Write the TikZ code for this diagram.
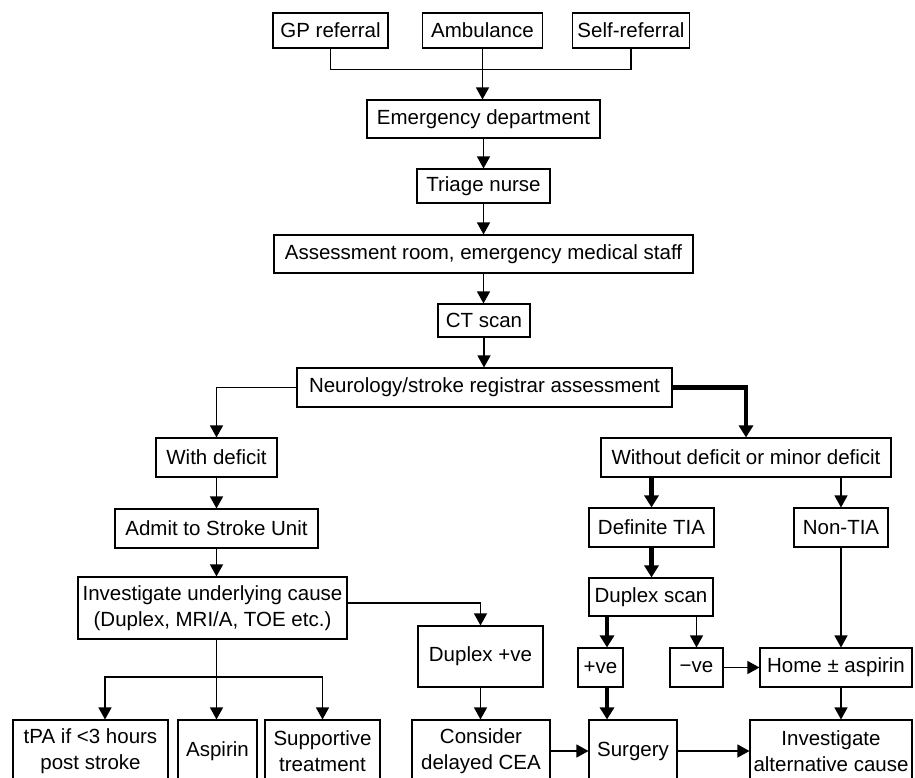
\documentclass[tikz,border=0pt]{standalone}
\usepackage{fontspec}
\setmainfont{Liberation Sans}
\usetikzlibrary{arrows.meta}
\begin{document}
\begin{tikzpicture}[x=1pt,y=-1pt,
  box/.style={draw, line width=1.1pt, inner sep=0pt, align=center,
    font=\fontsize{20.5}{25.5}\selectfont, text=black},
  plain/.style={line width=1.3pt},
  conn/.style={line width=1.3pt, -{Triangle[length=12pt,width=13pt]}},
  heavy/.style={line width=4.5pt, -{Triangle[length=12pt,width=14pt]}}
]
\clip (0,0) rectangle (915,778);
% top row
\node[box, minimum width=115pt, minimum height=35pt] (gp) at (330.5,30.5) {GP referral};
\node[box, minimum width=120pt, minimum height=35pt] (amb) at (482.5,30.5) {Ambulance};
\node[box, minimum width=117pt, minimum height=35pt] (self) at (631,30.5) {Self-referral};
% main column
\node[box, minimum width=233pt, minimum height=38pt] (ed) at (483.5,119) {Emergency department};
\node[box, minimum width=133pt, minimum height=34pt] (triage) at (483.5,186) {Triage nurse};
\node[box, minimum width=419pt, minimum height=38pt] (assess) at (483.5,254) {Assessment room, emergency medical staff};
\node[box, minimum width=92pt, minimum height=33pt] (ct) at (484,320.5) {CT scan};
\node[box, minimum width=375pt, minimum height=39pt] (neuro) at (484.5,387.5) {Neurology/stroke registrar assessment};
% left branch
\node[box, minimum width=121pt, minimum height=39pt] (withdef) at (216.5,457.5) {With deficit};
\node[box, minimum width=203pt, minimum height=39pt] (admit) at (216.5,528.5) {Admit to Stroke Unit};
\node[box, minimum width=269pt, minimum height=62pt] (invest) at (212.5,608) {Investigate underlying cause\\(Duplex, MRI/A, TOE etc.)};
\node[box, minimum width=155pt, minimum height=62pt] (tpa) at (90.5,751) {tPA if {<}3 hours\\post stroke};
\node[box, minimum width=79pt, minimum height=62pt] (aspirin) at (217.5,751) {Aspirin};
\node[box, minimum width=115pt, minimum height=62pt] (supp) at (322.5,751) {Supportive\\treatment};
\node[box, minimum width=125pt, minimum height=61pt] (dupve) at (480.5,656.5) {Duplex +ve};
\node[box, minimum width=138pt, minimum height=62pt] (consider) at (481,751) {Consider\\delayed CEA};
% right branch
\node[box, minimum width=290pt, minimum height=39pt] (without) at (746,457.5) {Without deficit or minor deficit};
\node[box, minimum width=125pt, minimum height=39pt] (definite) at (651.5,527.5) {Definite TIA};
\node[box, minimum width=94pt, minimum height=39pt] (nontia) at (841,527.5) {Non-TIA};
\node[box, minimum width=124pt, minimum height=38pt] (dscan) at (651,597) {Duplex scan};
\node[box, minimum width=45pt, minimum height=39pt] (pve) at (600.5,667.5) {+ve};
\node[box, minimum width=53pt, minimum height=39pt] (nve) at (696.5,667.5) {−ve};
\node[box, minimum width=152pt, minimum height=39pt] (home) at (836,667.5) {Home ± aspirin};
\node[box, minimum width=88pt, minimum height=62pt] (surgery) at (633,751) {Surgery};
\node[box, minimum width=162pt, minimum height=62pt] (altc) at (831,751) {Investigate\\alternative cause};
% connectors top
\draw[plain] (gp.south) -- ++(0,21) -| (self.south);
\draw[conn] (amb.south) -- (amb.south |- ed.north);
\draw[conn] (ed.south) -- (ed.south |- triage.north);
\draw[conn] (triage.south) -- (triage.south |- assess.north);
\draw[conn] (assess.south) -- (assess.south |- ct.north);
\draw[conn] (ct.south) -- (ct.south |- neuro.north);
\draw[conn] (neuro.west) -| (withdef.north);
\draw[heavy] (neuro.east) -| (without.north);
% left branch connectors
\draw[conn] (withdef.south) -- (withdef.south |- admit.north);
\draw[conn] (admit.south) -- (admit.south |- invest.north);
\coordinate (split) at (216.5,677);
\draw[conn] (admit.south |- invest.south) -- (admit.south |- aspirin.north);
\draw[conn] (split) -| ([xshift=14.5pt]tpa.north);
\draw[conn] (split) -| (supp.north);
\draw[conn] ([yshift=5pt]invest.east) -| (dupve.north);
\draw[conn] (dupve.south) -- (dupve.south |- consider.north);
\draw[conn] (consider.east |- 0,751) -- (surgery.west |- 0,751);
% right branch connectors
\draw[heavy] (without.south -| definite.north) -- (definite.north);
\draw[conn] (without.south -| nontia.north) -- (nontia.north);
\draw[heavy] (definite.south) -- (definite.south |- dscan.north);
\draw[heavy] ([xshift=6.5pt]pve.north |- dscan.south) -- ([xshift=6.5pt]pve.north);
\draw[heavy] ([xshift=6.5pt]pve.south) -- ([xshift=6.5pt]pve.south |- surgery.north);
\draw[conn] (nve.north |- dscan.south) -- (nve.north);
\draw[conn] (nve.east) -- (home.west);
\draw[conn] (nontia.south) -- (nontia.south |- home.north);
\draw[conn] (nontia.south |- home.south) -- (nontia.south |- altc.north);
\draw[conn] (surgery.east |- 0,751) -- (altc.west |- 0,751);
\end{tikzpicture}
\end{document}
